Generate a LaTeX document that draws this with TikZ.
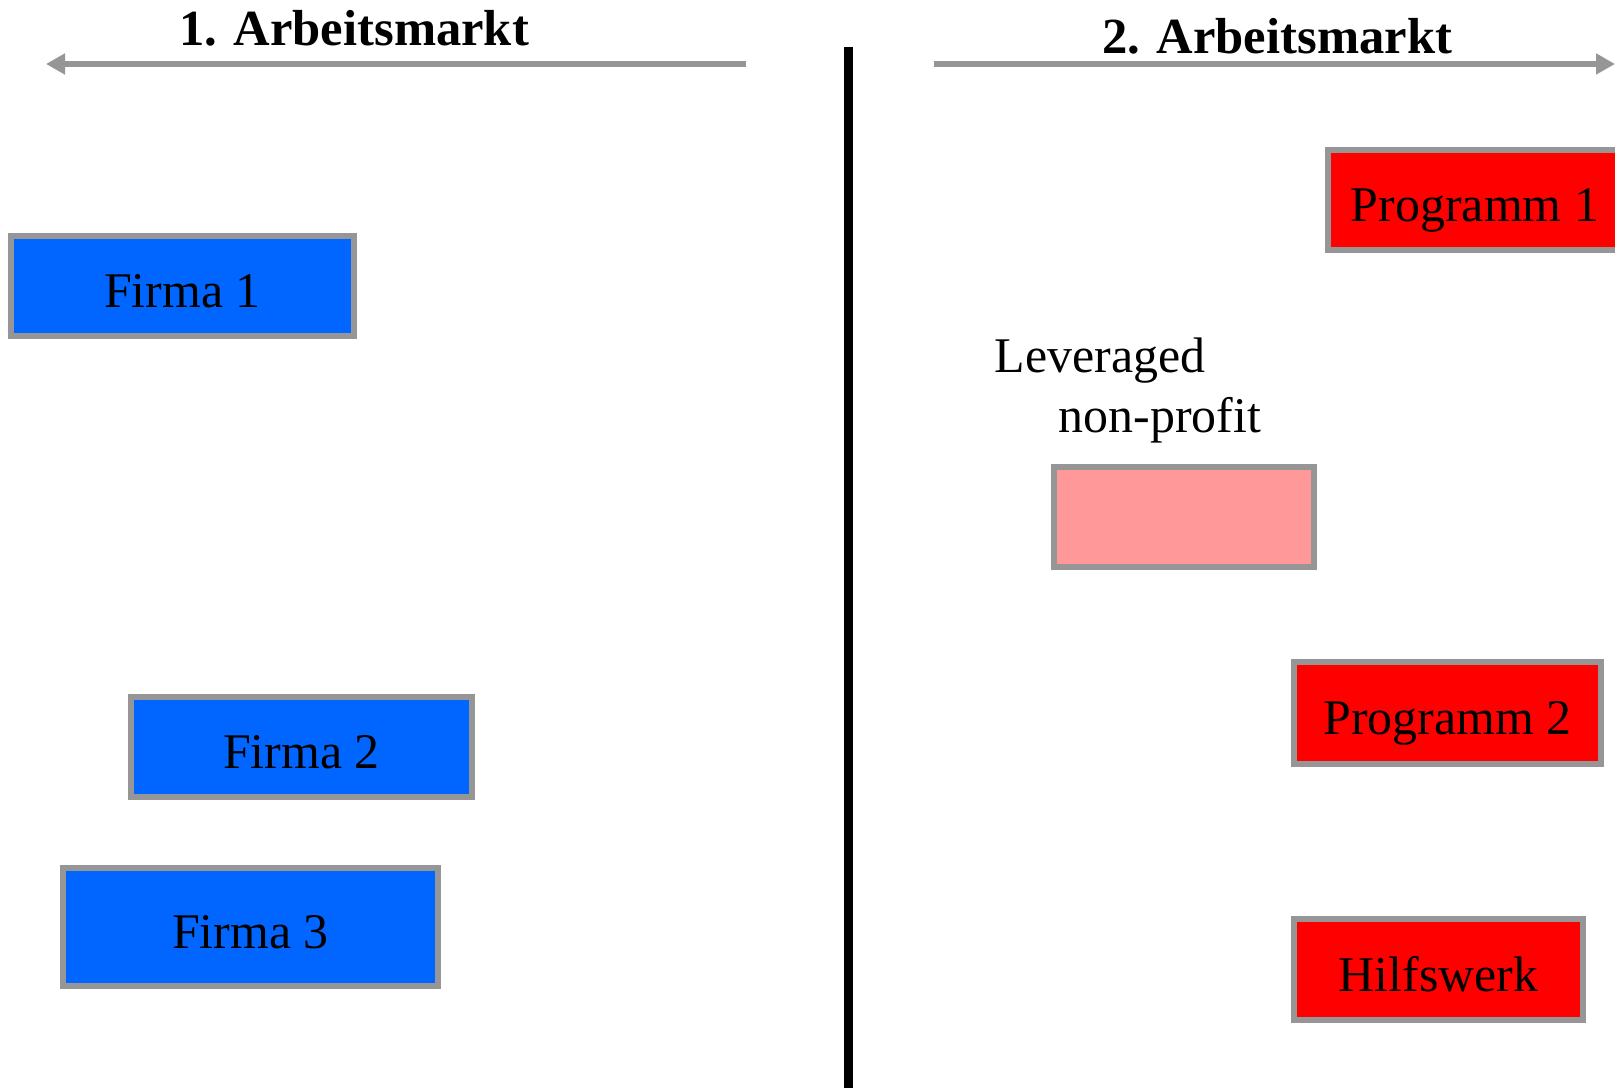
\documentclass[tikz,border=0pt]{standalone}
\usepackage{fontspec}
\setmainfont{Liberation Serif}
\usepackage{tikz}
\usetikzlibrary{arrows.meta,calc}
\definecolor{firmblue}{HTML}{0066FF}
\definecolor{progred}{HTML}{FF0000}
\definecolor{levpink}{HTML}{FF9999}
\definecolor{rimgray}{HTML}{969696}
\tikzset{
	marktbox/.style={draw=rimgray,line width=0.6mm,inner sep=0pt,
		text height=4.32mm,text depth=0pt,
		font=\fontsize{14.2}{17}\selectfont},
	marktarrow/.style={rimgray,line width=0.6mm,-{Triangle[length=1.9mm,width=2mm]}},
	markttitle/.style={anchor=base,font=\fontsize{14.4}{17}\selectfont\bfseries},
	levtext/.style={anchor=base west,inner sep=0pt,font=\fontsize{14.2}{17}\selectfont}
}
\begin{document}
\begin{tikzpicture}
		\useasboundingbox (0,0) rectangle (16.15,10.88);
		\node[markttitle] (titleA) at (3.54,10.42) {1. Arbeitsmarkt};
		\node[markttitle] (titleB) at (12.77,10.345) {2. Arbeitsmarkt};
		\coordinate (arrA) at (7.46,10.24);
		\coordinate (tipA) at (0.46,10.24);
		\coordinate (arrB) at (9.34,10.24);
		\coordinate (tipB) at (16.15,10.24);
		\draw[marktarrow] (arrA) -- (tipA);
		\draw[marktarrow] (arrB) -- (tipB);
		\coordinate (sepTop) at (8.485,10.41);
		\coordinate (sepBot) at (8.485,0);
		\draw[black,line width=0.85mm] (sepTop) -- (sepBot);
		\node[marktbox,fill=firmblue,minimum width=3.43cm,minimum height=1cm] (firma1) at (1.825,8.02) {Firma 1};
		\node[marktbox,fill=firmblue,minimum width=3.41cm,minimum height=1cm] (firma2) at (3.015,3.41) {Firma 2};
		\node[marktbox,fill=firmblue,minimum width=3.75cm,minimum height=1.18cm] (firma3) at (2.505,1.61) {Firma 3};
		\node[marktbox,fill=progred,minimum width=2.94cm,minimum height=1cm] (prog1) at (14.75,8.88) {Programm 1};
		\node[marktbox,fill=levpink,minimum width=2.6cm,minimum height=1cm] (levbox) at (11.84,5.71) {};
		\node[marktbox,fill=progred,minimum width=3.07cm,minimum height=1.02cm] (prog2) at (14.475,3.75) {Programm 2};
		\node[marktbox,fill=progred,minimum width=2.89cm,minimum height=1.01cm] (hilfe) at (14.385,1.185) {Hilfswerk};
		\node[levtext] (levA) at (9.94,7.15) {Leveraged};
		\node[levtext] (levB) at (10.58,6.55) {non-profit};
	\end{tikzpicture}
\end{document}
